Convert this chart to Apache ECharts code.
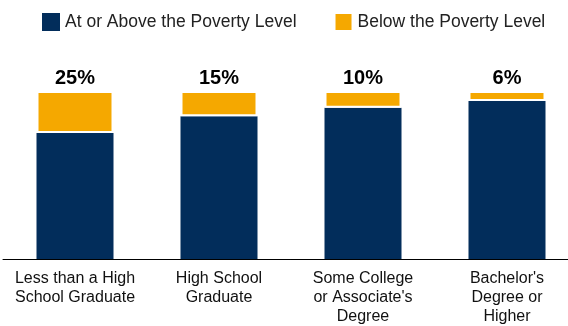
<!DOCTYPE html>
<html>
<head>
<meta charset="utf-8">
<script src="https://cdn.jsdelivr.net/npm/echarts@6/dist/echarts.min.js"></script>
<style>
  html, body { margin: 0; padding: 0; background: #fff; overflow: hidden; }
  /* a bit wider than the window so the last category isn't squeezed */
  #chart { width: 582px; height: 326px; }
</style>
</head>
<body>
<div id="chart"></div>
<script>
// education levels and share of people below / at-or-above poverty
const categories = [
	'Less than a High\nSchool Graduate',
	'High School\nGraduate',
	'Some College\nor Associate\'s\nDegree',
	'Bachelor\'s\nDegree or\nHigher'
];
const abovePoverty = [75, 85, 90, 94];
const belowPoverty = [25, 15, 10, 6];

const navy = '#022d5b';
const gold = '#f5a800';

const myChart = echarts.init(document.getElementById('chart'));

const option = {
	animation: false,
	textStyle: { fontFamily: 'Liberation Sans, Arial, sans-serif' },
	legend: {
		left: 37,
		top: 7,
		itemWidth: 18,
		itemHeight: 18,
		itemGap: 37,
		icon: 'rect',
		textStyle: { fontSize: 17.5, color: '#222' },
		data: ['At or Above the Poverty Level', 'Below the Poverty Level']
	},
	grid: {
		left: 3,
		top: 91,
		width: 576,
		height: 174
	},
	xAxis: {
		type: 'category',
		data: categories,
		axisLine: { lineStyle: { color: '#000', width: 1 } },
		axisTick: { show: false },
		axisLabel: {
			interval: 0,
			margin: 10,
			fontSize: 16,
			lineHeight: 19,
			color: '#111'
		}
	},
	yAxis: {
		type: 'value',
		min: 0,
		max: 100,
		show: false
	},
	series: [
		{
			name: 'At or Above the Poverty Level',
			type: 'bar',
			stack: 'total',
			barWidth: 77,
			data: abovePoverty,
			itemStyle: { color: navy }
		},
		{
			name: 'Below the Poverty Level',
			type: 'bar',
			stack: 'total',
			barWidth: 77,
			data: belowPoverty,
			itemStyle: { color: gold, borderColor: '#fff', borderWidth: 2 },
			label: {
				show: true,
				position: 'top',
				distance: 3,
				formatter: '{c}%',
				fontSize: 20,
				fontWeight: 'bold',
				color: '#000'
			}
		}
	]
};

myChart.setOption(option);
</script>
</body>
</html>
